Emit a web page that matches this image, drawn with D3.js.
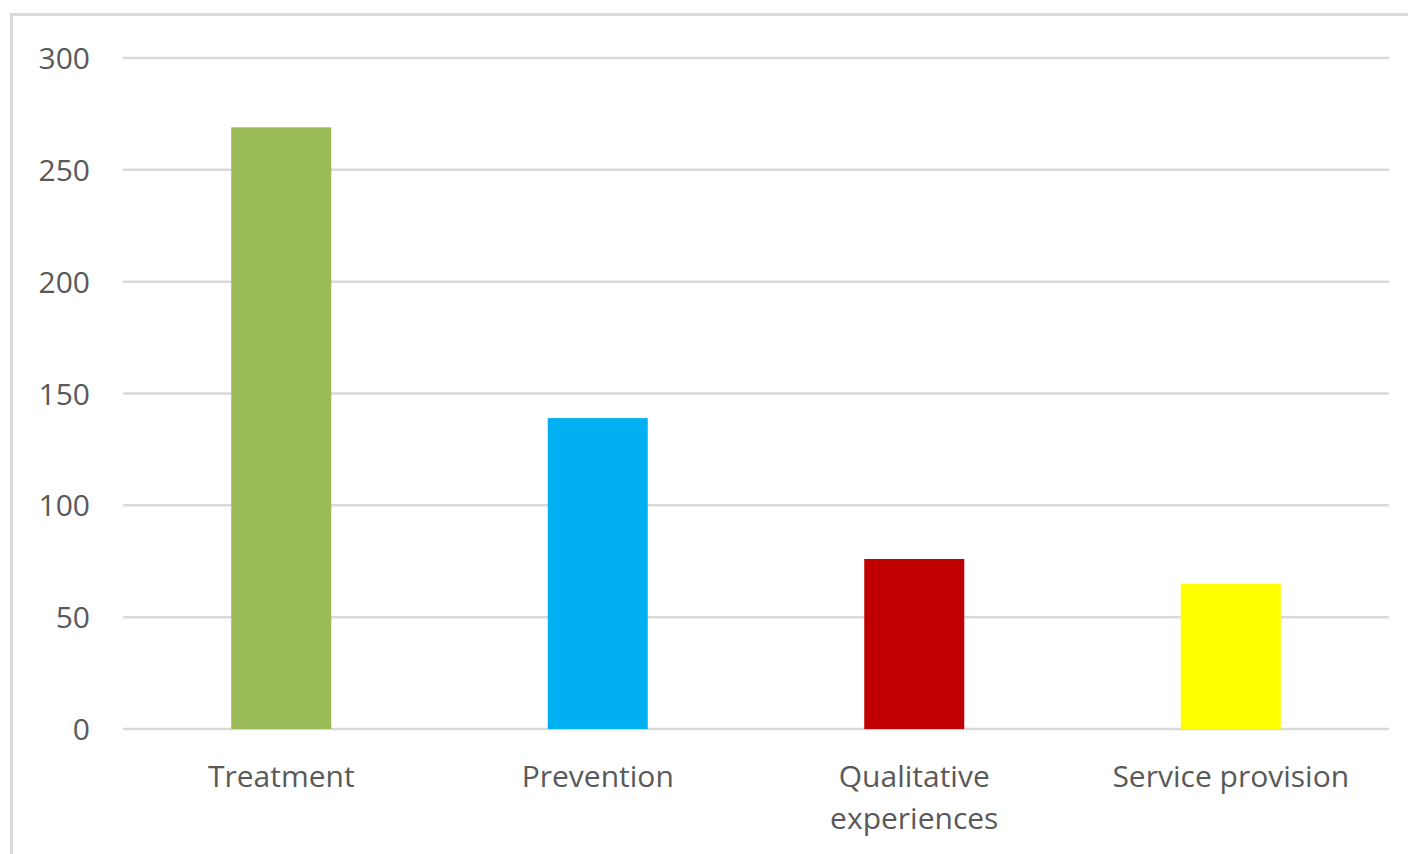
<!DOCTYPE html>
<html>
<head>
<meta charset="utf-8">
<script src="https://cdn.jsdelivr.net/npm/d3@7"></script>
<style>
  body { margin: 0; background: #fff; }
  svg { display: block; }
  .tick text { font-family: "Open Sans", sans-serif; }
</style>
</head>
<body>
<svg id="chart" width="1408" height="854"></svg>
<script>
// data
const categories = ["Treatment", "Prevention", "Qualitative experiences", "Service provision"];
const counts = [269, 139, 76, 65];
const barColors = ["#9bbb59", "#00b0f0", "#c00000", "#ffff00"];
const yTicks = [0, 50, 100, 150, 200, 250, 300];

const svg = d3.select("#chart");
const plotLeft = 123, plotRight = 1389, plotTop = 58, plotBottom = 729;

// outer frame
svg.append("rect")
  .attr("x", 11.5)
  .attr("y", 14.5)
  .attr("width", 1420)
  .attr("height", 860)
  .attr("fill", "#fff")
  .attr("stroke", "#d9d9d9")
  .attr("stroke-width", 3);

const x = d3.scaleBand()
  .domain(categories)
  .range([plotLeft, plotRight])
  .paddingInner(0.684)
  .paddingOuter(0.342);

const y = d3.scaleLinear()
  .domain([0, 300])
  .range([plotBottom, plotTop]);

// gridlines
svg.append("g")
  .selectAll("line")
  .data(yTicks)
  .join("line")
  .attr("x1", plotLeft)
  .attr("x2", plotRight)
  .attr("y1", d => y(d))
  .attr("y2", d => y(d))
  .attr("stroke", "#d9d9d9")
  .attr("stroke-width", 2.5);

// y axis labels
const yAxis = svg.append("g")
  .attr("transform", `translate(${plotLeft},0)`)
  .call(d3.axisLeft(y).tickValues(yTicks).tickSize(0).tickPadding(33));
yAxis.select(".domain").remove();
yAxis.selectAll("text")
  .attr("fill", "#595959")
  .attr("font-size", 30)
  .attr("dy", "0.35em");

// bars
svg.append("g")
  .selectAll("rect")
  .data(categories)
  .join("rect")
  .attr("x", d => x(d))
  .attr("width", x.bandwidth())
  .attr("y", (d, i) => y(counts[i]))
  .attr("height", (d, i) => y(0) - y(counts[i]))
  .attr("fill", (d, i) => barColors[i]);

// x axis labels
const xAxis = svg.append("g")
  .attr("transform", `translate(0,${plotBottom})`)
  .call(d3.axisBottom(x).tickSize(0).tickPadding(0));
xAxis.select(".domain").remove();
xAxis.selectAll("text")
  .attr("fill", "#595959")
  .attr("font-size", 30)
  .attr("dy", null)
  .attr("y", 58)
  .call(wrap, 280);

function wrap(texts, maxWidth) {
  texts.each(function() {
    const text = d3.select(this);
    const words = text.text().split(/\s+/);
    const y0 = text.attr("y");
    text.text(null);
    let line = [];
    let lineNo = 0;
    let tspan = text.append("tspan").attr("x", 0).attr("y", y0);
    words.forEach(w => {
      line.push(w);
      tspan.text(line.join(" "));
      if (tspan.node().getComputedTextLength() > maxWidth && line.length > 1) {
        line.pop();
        tspan.text(line.join(" "));
        line = [w];
        lineNo++;
        tspan = text.append("tspan")
          .attr("x", 0)
          .attr("y", +y0 + lineNo * 42)
          .text(w);
      }
    });
  });
}
</script>
</body>
</html>
